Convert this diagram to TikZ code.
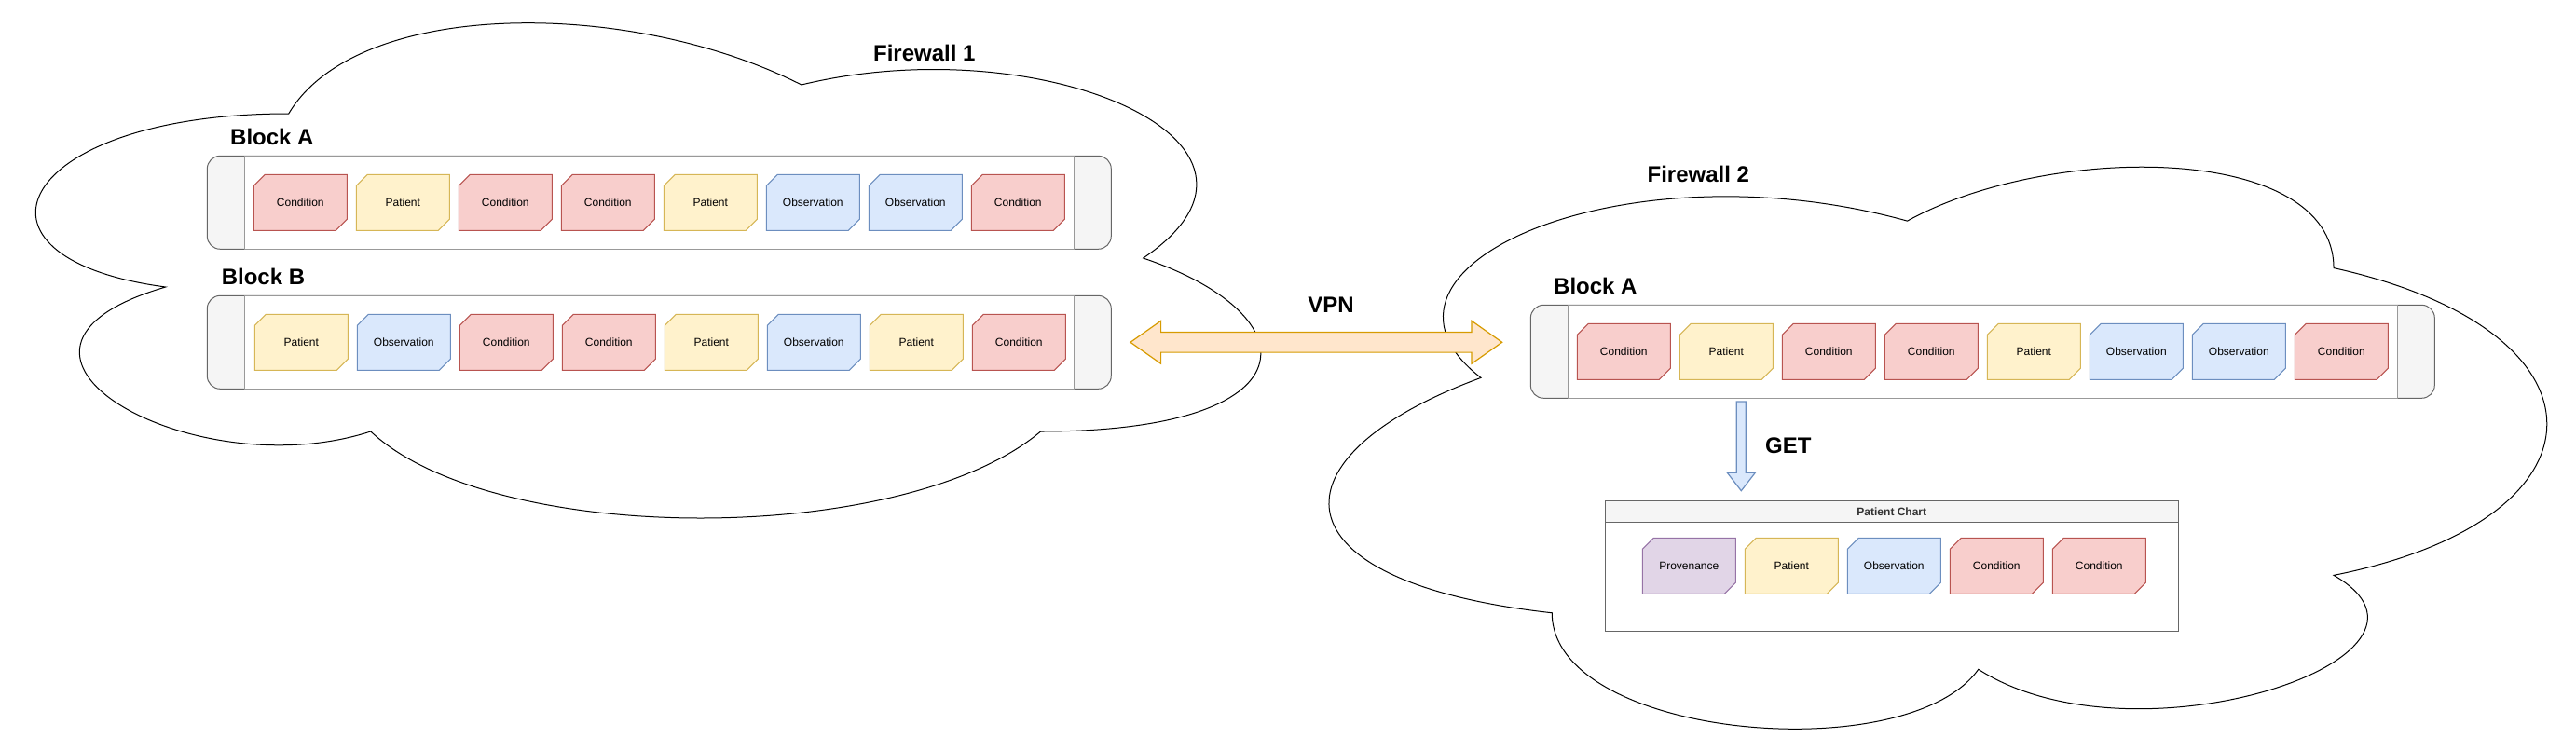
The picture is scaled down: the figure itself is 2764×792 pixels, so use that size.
\documentclass[tikz,border=0pt]{standalone}
\usepackage{fontspec}
\setmainfont{Liberation Sans}
\usetikzlibrary{calc}
\definecolor{condF}{HTML}{F8CECC}\definecolor{condD}{HTML}{B85450}
\definecolor{patF}{HTML}{FFF2CC}\definecolor{patD}{HTML}{D6B656}
\definecolor{obsF}{HTML}{DAE8FC}\definecolor{obsD}{HTML}{6C8EBF}
\definecolor{provF}{HTML}{E1D5E7}\definecolor{provD}{HTML}{9673A6}
\definecolor{capF}{HTML}{F5F5F5}\definecolor{capD}{HTML}{666666}
\definecolor{barD}{HTML}{999999}
\definecolor{vpnF}{HTML}{FFE6CC}\definecolor{vpnD}{HTML}{D79B00}
\definecolor{hdrT}{HTML}{333333}
\tikzset{
  cloudline/.style={draw=black, line width=1pt, fill=white},
  cardtxt/.style={inner sep=0pt, font=\fontsize{12}{14}\selectfont, text=black},
  cond/.style={fill=condF, draw=condD, line width=1pt},
  pat/.style={fill=patF, draw=patD, line width=1pt},
  obs/.style={fill=obsF, draw=obsD, line width=1pt},
  prov/.style={fill=provF, draw=provD, line width=1pt},
  title/.style={font=\bfseries\fontsize{24}{28}\selectfont, inner sep=0pt, anchor=base},
  barnode/.style={draw=capD, fill=capF, line width=1pt, rounded corners=14pt,
    minimum width=970pt, minimum height=100pt, anchor=north west, inner sep=0pt, outer sep=0pt},
  barmid/.style={draw=barD, fill=white, line width=1pt},
  vpnarrow/.style={fill=vpnF, draw=vpnD, line width=1.2pt, line join=miter},
  getarrow/.style={fill=obsF, draw=obsD, line width=1.2pt, line join=miter},
}
\newcommand\fwcloudpath{(0.25,0.25) .. controls (0.05,0.25) and (0,0.5) .. (0.16,0.55)
  .. controls (0,0.66) and (0.18,0.9) .. (0.31,0.8)
  .. controls (0.4,1) and (0.7,1) .. (0.8,0.8)
  .. controls (1,0.8) and (1,0.6) .. (0.875,0.5)
  .. controls (1,0.3) and (0.8,0.1) .. (0.625,0.2)
  .. controls (0.5,0.05) and (0.3,0.05) .. (0.25,0.25) -- cycle}
% card: #1 name, #2 x, #3 y (top left), #4 style, #5 text
\newcommand\fcard[5]{%
  \path[#4] (#2,#3+12) -- (#2+12,#3) -- (#2+100,#3) -- (#2+100,#3+48) -- (#2+88,#3+60) -- (#2,#3+60) -- cycle;
  \node[cardtxt] (#1) at (#2+50,#3+30) {#5};}
% bar: #1 name, #2 x, #3 y
\newcommand\fbar[3]{%
  \node[barnode] (#1) at (#2,#3) {};
  \draw[barmid] ($(#1.north west)+(40,0)$) rectangle ($(#1.south east)+(-40,0)$);}
\begin{document}
\begin{tikzpicture}[x=1pt,y=-1pt]
\useasboundingbox (0,0) rectangle (2764,792);
\fill[white] (0,0) rectangle (2764,792);
% clouds
\begin{scope}[shift={(-57,-33)}, x=1467pt, y=-620pt]
  \draw[cloudline] \fwcloudpath;
\end{scope}
\begin{scope}[shift={(1284,826)}, x={(0pt,673pt)}, y={(1525pt,0pt)}]
  \draw[cloudline] \fwcloudpath;
\end{scope}
% titles
\node[title] (fw1) at (991.8,65.7) {Firewall 1};
\node[title] (fw2) at (1822.3,195.7) {Firewall 2};
\node[title, anchor=base west] (lblA1) at (247,155.7) {Block A};
\node[title, anchor=base west] (lblB1) at (237.6,305.7) {Block B};
\node[title, anchor=base west] (lblA2) at (1667,315.7) {Block A};
\node[title] (vpn) at (1428,335.7) {VPN};
\node[title, anchor=base west] (get) at (1894,486) {GET};
% bars
\fbar{barA}{222.3}{167.3}
\fbar{barB}{222.3}{317.3}
\fbar{barC}{1642.3}{327.3}
\foreach \s/\t [count=\i from 0] in {cond/Condition,pat/Patient,cond/Condition,cond/Condition,pat/Patient,obs/Observation,obs/Observation,cond/Condition}
  {\fcard{a\i}{272.3+110*\i}{187.3}{\s}{\t}}
\foreach \s/\t [count=\i from 0] in {pat/Patient,obs/Observation,cond/Condition,cond/Condition,pat/Patient,obs/Observation,pat/Patient,cond/Condition}
  {\fcard{b\i}{273.3+110*\i}{337.3}{\s}{\t}}
\foreach \s/\t [count=\i from 0] in {cond/Condition,pat/Patient,cond/Condition,cond/Condition,pat/Patient,obs/Observation,obs/Observation,cond/Condition}
  {\fcard{c\i}{1692.3+110*\i}{347.3}{\s}{\t}}
% patient chart
\node[draw=capD, fill=white, line width=1pt, minimum width=615pt, minimum height=140pt,
  anchor=north west, inner sep=0pt, outer sep=0pt] (chart) at (1722.3,537.3) {};
\draw[draw=capD, fill=capF, line width=1pt] (chart.north west) rectangle ($(chart.north east)+(0,23)$);
\node[inner sep=0pt, font=\bfseries\fontsize{12}{14}\selectfont, text=hdrT] (charttitle)
  at ($(chart.north)+(0,11.5)$) {Patient Chart};
\foreach \s/\t [count=\i from 0] in {prov/Provenance,pat/Patient,obs/Observation,cond/Condition,cond/Condition}
  {\fcard{d\i}{1762.3+110*\i}{577.3}{\s}{\t}}
% VPN double arrow
\coordinate (vpnL) at ($(barB.east)+(20.6,0)$);
\coordinate (vpnR) at (1611.7,367.3);
\draw[vpnarrow] (vpnL) -- ++(32.7,-23) -- ++(0,12.2) -- ($(vpnR)+(-32.7,-10.8)$) -- ++(0,-12.2)
  -- (vpnR) -- ++(-32.7,23) -- ++(0,-12.2) -- ($(vpnL)+(32.7,10.8)$) -- ++(0,12.2) -- cycle;
% GET arrow
\coordinate (getT) at (1868.3,431);
\coordinate (getB) at (1868.3,526.7);
\draw[getarrow] ($(getT)+(-5,0)$) -- ($(getT)+(5,0)$) -- ($(getB)+(5,-19.4)$) -- ($(getB)+(15,-19.4)$)
  -- (getB) -- ($(getB)+(-15,-19.4)$) -- ($(getB)+(-5,-19.4)$) -- cycle;
\end{tikzpicture}
\end{document}
